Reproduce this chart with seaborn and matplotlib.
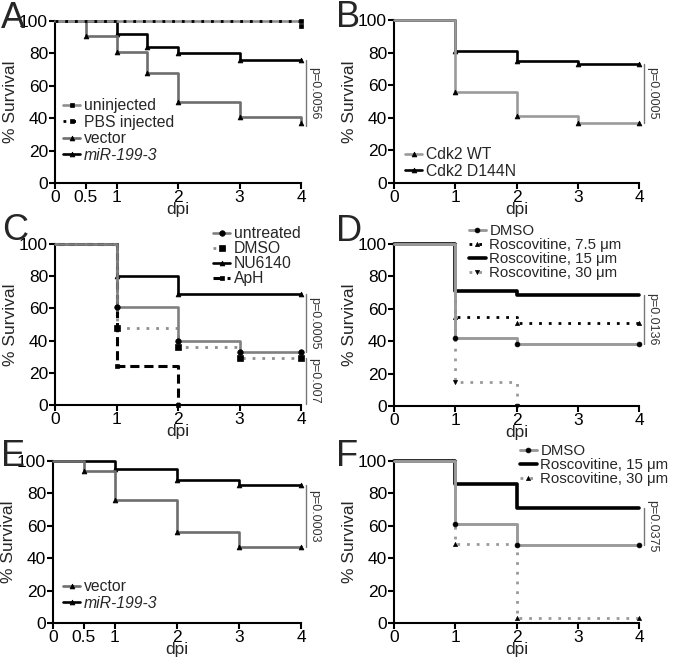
import matplotlib
matplotlib.use('Agg')
import matplotlib.pyplot as plt
import seaborn as sns

sns.set_style('white')
plt.rcParams['font.family'] = ['Liberation Sans', 'DejaVu Sans']

# ---- data (dpi vs % survival) ----
# A
a_uninj_t, a_uninj_s = [0, 4], [100, 100]
a_pbs_t, a_pbs_s = [0, 4], [100, 97]
a_vec_t, a_vec_s = [0, 0.5, 1, 1.5, 2, 3, 4], [100, 91, 81, 68, 50, 41, 37]
a_mir_t, a_mir_s = [0, 1, 1.5, 2, 3, 4], [100, 92, 84, 80, 76, 76]
# B
b_wt_t, b_wt_s = [0, 1, 2, 3, 4], [100, 56, 41, 37, 37]
b_mut_t, b_mut_s = [0, 1, 2, 3, 4], [100, 81, 75, 73, 73]
# C
c_untr_t, c_untr_s = [0, 1, 2, 3, 4], [100, 61, 39.5, 33, 33]
c_dmso_t, c_dmso_s = [0, 1, 2, 3, 4], [100, 48, 36, 29, 29]
c_nu_t, c_nu_s = [0, 1, 2, 4], [100, 80, 69, 69]
c_aph_t, c_aph_s = [0, 1, 2], [100, 24, 0]
# D
d_dmso_t, d_dmso_s = [0, 1, 2, 4], [100, 42, 38.5, 38.5]
d_r75_t, d_r75_s = [0, 1, 2, 4], [100, 55, 51.5, 51.5]
d_r15_t, d_r15_s = [0, 1, 2, 4], [100, 71, 68.5, 68.5]
d_r30_t, d_r30_s = [0, 1, 2], [100, 15, 0]
# E
e_vec_t, e_vec_s = [0, 0.5, 1, 2, 3, 4], [100, 94, 76, 56, 47, 47]
e_mir_t, e_mir_s = [0, 1, 2, 3, 4], [100, 95, 88, 85, 85]
# F
f_dmso_t, f_dmso_s = [0, 1, 2, 4], [100, 61, 48, 48]
f_r15_t, f_r15_s = [0, 1, 2, 4], [100, 85.5, 71, 71]
f_r30_t, f_r30_s = [0, 1, 2, 4], [100, 48.5, 3, 3]

um = '\u03bcm'
DOT = (0, (1, 2.5))
DASH = (0, (3, 1.6))

W, H = 677, 666
fig = plt.figure(figsize=(W / 100, H / 100), dpi=100)


def make_ax(x0, x1, y0, y1, xticks):
    ax = fig.add_axes([x0 / W, 1 - y1 / H, (x1 - x0) / W, (y1 - y0) / H])
    ax.set_xlim(0, 4)
    ax.set_ylim(0, 100)
    ax.set_xticks(xticks)
    ax.set_xticklabels([('%g' % t) for t in xticks])
    ax.set_yticks([0, 20, 40, 60, 80, 100])
    for s in ['top', 'right']:
        ax.spines[s].set_visible(False)
    for s in ['left', 'bottom']:
        ax.spines[s].set_linewidth(1.5)
        ax.spines[s].set_color('black')
    ax.tick_params(direction='out', length=4, width=1.5, labelsize=12.5, pad=1,
                   colors='black', left=True, bottom=True)
    ax.set_xlabel('dpi', fontsize=12.5, labelpad=-2)
    ax.set_ylabel('% Survival', fontsize=12.5, labelpad=1)
    return ax


def curve(ax, t, s, label, color, ls='-', lw=1.9, marker='s', ms=3.5, z=2):
    sns.lineplot(x=t, y=s, ax=ax, drawstyle='steps-post', color=color,
                 linestyle=ls, linewidth=lw, marker=marker, markersize=ms,
                 markerfacecolor='black', markeredgecolor='black',
                 markeredgewidth=0.5, markevery=slice(1, None),
                 clip_on=False, zorder=z, label=label)


def pval(ax, y_hi, y_lo, txt):
    ax.plot([4.08, 4.08], [y_lo, y_hi], color='#777777', lw=1, clip_on=False)
    ax.text(4.12, (y_hi + y_lo) / 2, txt, rotation=270, ha='left',
            va='center', fontsize=9, color='#333333')


def legend(ax, left, top, order, spacing=0.1, size=11.3):
    h, l = ax.get_legend_handles_labels()
    h = [h[i] for i in order]
    l = [l[i] for i in order]
    leg = ax.legend(h, l, loc='upper left',
                    bbox_to_anchor=(left / W, 1 - top / H),
                    bbox_transform=fig.transFigure, frameon=False,
                    fontsize=size, handlelength=1.1, handletextpad=0.25,
                    labelspacing=spacing, borderpad=0, borderaxespad=0,
                    numpoints=1)
    for ln in leg.get_lines():
        ln.set_markevery([1])
    for t in leg.get_texts():
        if t.get_text() == 'miR-199-3':
            t.set_fontstyle('italic')


def letter(x, y, s):
    fig.text(x / W, 1 - y / H, s, fontsize=26, va='baseline', ha='left')


# ---- A ----
ax = make_ax(55, 301, 21, 183, [0, 0.5, 1, 2, 3, 4])
curve(ax, a_mir_t, a_mir_s, 'miR-199-3', 'black', marker='^', z=3)
curve(ax, a_vec_t, a_vec_s, 'vector', '#6e6e6e', marker='^', z=4)
curve(ax, a_pbs_t, a_pbs_s, 'PBS injected', 'black', ls=DOT, lw=2, z=5)
curve(ax, a_uninj_t, a_uninj_s, 'uninjected', '#8e8e8e', z=4)
legend(ax, 63, 98, [3, 2, 1, 0])
pval(ax, 76, 35, 'p=0.0056')
letter(1, 28, 'A')

# ---- B ----
ax = make_ax(394, 639, 20, 183, [0, 1, 2, 3, 4])
curve(ax, b_mut_t, b_mut_s, 'Cdk2 D144N', 'black', marker='^', z=3)
curve(ax, b_wt_t, b_wt_s, 'Cdk2 WT', '#9a9a9a', marker='^', z=4)
legend(ax, 405, 147, [1, 0])
pval(ax, 73, 37, 'p=0.0005')
letter(336, 27, 'B')

# ---- C ----
ax = make_ax(55, 301, 244, 405, [0, 1, 2, 3, 4])
curve(ax, c_aph_t, c_aph_s, 'ApH', 'black', ls=DASH, lw=2.2, marker='s', z=2)
curve(ax, c_nu_t, c_nu_s, 'NU6140', 'black', marker='^', z=3)
curve(ax, c_dmso_t, c_dmso_s, 'DMSO', '#8e8e8e', ls=DOT, lw=2, marker='s', ms=4.5, z=4)
curve(ax, c_untr_t, c_untr_s, 'untreated', '#808080', marker='o', ms=4, z=5)
legend(ax, 213, 226, [3, 2, 1, 0], spacing=0.0)
pval(ax, 69, 33, 'p=0.0005')
pval(ax, 29, 0.5, 'p=0.007')
letter(2, 240, 'C')

# ---- D ----
ax = make_ax(394, 639, 244, 406, [0, 1, 2, 3, 4])
curve(ax, d_r30_t, d_r30_s, 'Roscovitine, 30 ' + um, '#999999', ls=DOT, lw=2, marker='v', ms=3, z=2)
curve(ax, d_r15_t, d_r15_s, 'Roscovitine, 15 ' + um, 'black', lw=2.6, marker='', z=3)
curve(ax, d_r75_t, d_r75_s, 'Roscovitine, 7.5 ' + um, 'black', ls=DOT, lw=2, marker='^', ms=3, z=3)
curve(ax, d_dmso_t, d_dmso_s, 'DMSO', '#9a9a9a', lw=2.1, marker='o', ms=3.5, z=5)
legend(ax, 469, 224, [3, 2, 1, 0], spacing=0.0, size=10.8)
pval(ax, 68.5, 38.5, 'p=0.0136')
letter(336, 241, 'D')

# ---- E ----
ax = make_ax(53, 301, 461, 623, [0, 0.5, 1, 2, 3, 4])
curve(ax, e_mir_t, e_mir_s, 'miR-199-3', 'black', marker='^', z=3)
curve(ax, e_vec_t, e_vec_s, 'vector', '#6e6e6e', marker='^', z=4)
legend(ax, 63, 579, [1, 0])
pval(ax, 85, 47, 'p=0.0003')
letter(1, 466, 'E')

# ---- F ----
ax = make_ax(394, 639, 461, 623, [0, 1, 2, 3, 4])
curve(ax, f_r30_t, f_r30_s, 'Roscovitine, 30 ' + um, '#999999', ls=DOT, lw=2, marker='^', ms=3, z=2)
curve(ax, f_r15_t, f_r15_s, 'Roscovitine, 15 ' + um, 'black', lw=2.6, marker='', z=3)
curve(ax, f_dmso_t, f_dmso_s, 'DMSO', '#9a9a9a', lw=2.1, marker='o', ms=3.5, z=5)
legend(ax, 520, 444, [2, 1, 0], spacing=0.0, size=10.8)
pval(ax, 71, 48, 'p=0.0375')
letter(336, 466, 'F')

fig.savefig('out.png', dpi=100)
